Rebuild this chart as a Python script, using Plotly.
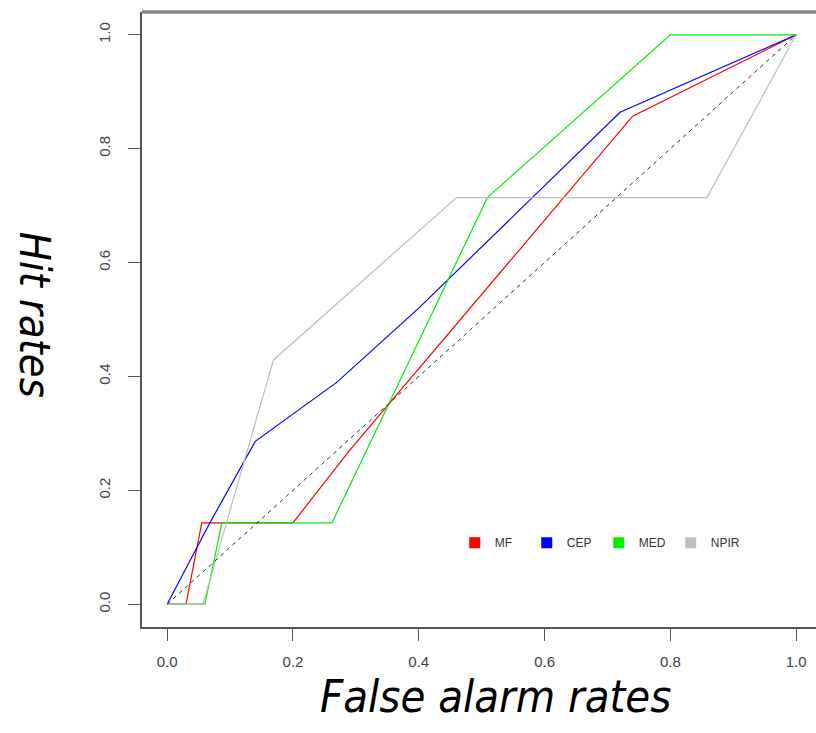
import plotly.graph_objects as go

# ROC points (false alarm rate, hit rate) for each forecast system
series_names = ["MF", "CEP", "MED", "NPIR"]
series_colors = ["#ff0000", "#0000ff", "#00ee00", "#bebebe"]

mf_far = [0.0, 0.03, 0.055, 0.20, 0.29, 0.74, 1.0]
mf_hit = [0.0, 0.0, 0.143, 0.143, 0.27, 0.857, 1.0]

cep_far = [0.0, 0.068, 0.14, 0.27, 0.40, 0.72, 1.0]
cep_hit = [0.0, 0.143, 0.286, 0.39, 0.52, 0.864, 1.0]

med_far = [0.0, 0.06, 0.087, 0.262, 0.509, 0.80, 1.0]
med_hit = [0.0, 0.0, 0.143, 0.143, 0.714, 1.0, 1.0]

npir_far = [0.0, 0.057, 0.169, 0.46, 0.858, 1.0]
npir_hit = [0.0, 0.0, 0.429, 0.714, 0.714, 1.0]

# no-skill reference line
ref_far = [0.0, 1.0]
ref_hit = [0.0, 1.0]

tick_vals = [0.0, 0.2, 0.4, 0.6, 0.8, 1.0]
tick_text = ["0.0", "0.2", "0.4", "0.6", "0.8", "1.0"]

fig = go.Figure()

curves = [(mf_far, mf_hit), (cep_far, cep_hit), (med_far, med_hit), (npir_far, npir_hit)]
for name, color, (fx, hy) in zip(series_names, series_colors, curves):
    fig.add_trace(go.Scatter(x=fx, y=hy, mode="lines", name=name,
                             line=dict(color=color, width=1.2),
                             showlegend=False, hoverinfo="skip"))

fig.add_trace(go.Scatter(x=ref_far, y=ref_hit, mode="lines",
                         line=dict(color="#333333", width=1, dash="4px,4px"),
                         showlegend=False, hoverinfo="skip"))

# square swatches for the legend
for name, color in zip(series_names, series_colors):
    fig.add_trace(go.Scatter(x=[None], y=[None], mode="markers", name=name,
                             marker=dict(symbol="square", size=11, color=color)))

tick_font = dict(family="Liberation Sans, Arial, sans-serif", size=15, color="#444444")
title_font = dict(family="DejaVu Sans Condensed, DejaVu Sans, sans-serif", size=45,
                  color="#000000", style="italic")
ytitle_font = dict(title_font, size=43)

fig.update_layout(
    width=816, height=733,
    margin=dict(l=142, r=0, t=12, b=106),
    paper_bgcolor="white", plot_bgcolor="white",
    xaxis=dict(range=[-0.04, 1.0315], tickvals=tick_vals, ticktext=tick_text,
               showgrid=False, zeroline=False, showline=True,
               linecolor="#555555", linewidth=1.5,
               ticks="outside", ticklen=12, tickwidth=1.3, tickcolor="#555555",
               tickfont=tick_font, ticklabelstandoff=8),
    yaxis=dict(range=[-0.04, 1.04], tickvals=tick_vals, ticktext=tick_text,
               showgrid=False, zeroline=False, showline=True,
               linecolor="#555555", linewidth=1.5,
               ticks="outside", ticklen=12, tickwidth=1.3, tickcolor="#555555",
               tickfont=tick_font, tickangle=-90, ticklabelstandoff=12),
    legend=dict(orientation="h", x=0.464, y=0.137, xanchor="left", yanchor="middle",
                bgcolor="rgba(255,255,255,0)", font=dict(family="Liberation Sans, Arial, sans-serif",
                                                          size=12, color="#333333"),
                entrywidth=27, entrywidthmode="pixels"),
    shapes=[dict(type="line", xref="paper", yref="paper", x0=0, x1=1, y0=1, y1=1,
                 line=dict(color="#888888", width=3.5))],
    annotations=[
        dict(text="Hit rates", xref="paper", yref="paper", x=-0.1588, y=0.5077,
             xanchor="center", yanchor="middle", textangle=90, showarrow=False,
             font=ytitle_font, borderpad=0),
        dict(text="False alarm rates", xref="paper", yref="paper", x=0.525, y=-0.113,
             xanchor="center", yanchor="middle", showarrow=False, font=title_font,
             borderpad=0),
    ],
)

fig.write_html("out.html")
